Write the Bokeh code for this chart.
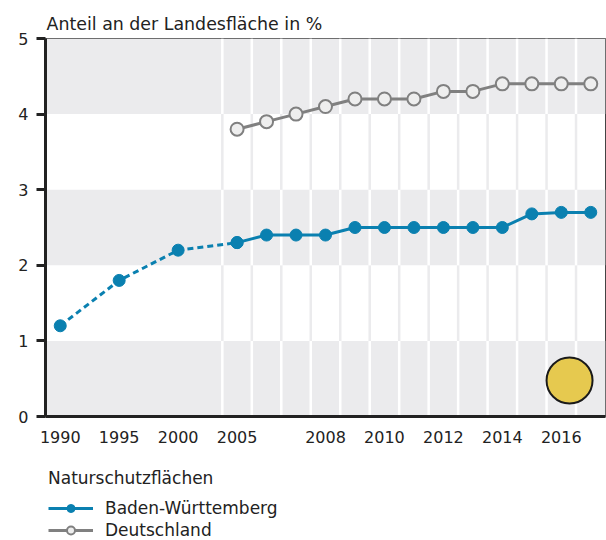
from bokeh.plotting import figure
from bokeh.layouts import column
from bokeh.models import Range1d, BoxAnnotation, Legend, LegendItem, FixedTicker
from bokeh.embed import file_html
from bokeh.resources import INLINE

FONT = "DejaVu Sans"
TEXT = "#222222"
BLUE = "#0a80b0"
GREY = "#808080"
BAND = "#ebebed"

# x slots (gap slots between the 5-year steps are unlabeled)
slots = ["1990", "1992", "1995", "1997", "2000", "2002", "2005", "2006", "2007", "2008",
         "2009", "2010", "2011", "2012", "2013", "2014", "2015", "2016", "2017"]
tick_labels = ["1990", "1995", "2000", "2005", "2008", "2010", "2012", "2014", "2016"]

# Baden-Württemberg, early (dashed) part
bw_early_years = ["1990", "1995", "2000", "2005"]
bw_early_values = [1.2, 1.8, 2.2, 2.3]
# Baden-Württemberg, annual part
bw_years = ["2005", "2006", "2007", "2008", "2009", "2010", "2011", "2012", "2013",
            "2014", "2015", "2016", "2017"]
bw_values = [2.3, 2.4, 2.4, 2.4, 2.5, 2.5, 2.5, 2.5, 2.5, 2.5, 2.68, 2.7, 2.7]
# Deutschland
de_years = ["2005", "2006", "2007", "2008", "2009", "2010", "2011", "2012", "2013",
            "2014", "2015", "2016", "2017"]
de_values = [3.8, 3.9, 4.0, 4.1, 4.2, 4.2, 4.2, 4.3, 4.3, 4.4, 4.4, 4.4, 4.4]

y_ticks = [0, 1, 2, 3, 4, 5]
grey_bands = [(0, 1), (2, 3), (4, 5)]
legend_title = "Naturschutzflächen"
series_names = ["Baden-Württemberg", "Deutschland"]

# slot centre positions on the numeric x axis
pos = {s: i + 0.5 for i, s in enumerate(slots)}
def X(years):
    return [pos[y] for y in years]

p = figure(x_range=Range1d(0, len(slots)), y_range=Range1d(0, 5),
           frame_width=560, frame_height=378,
           min_border_left=45, min_border_right=1, min_border_top=38, min_border_bottom=36,
           output_backend="svg", toolbar_location=None,
           title="Anteil an der Landesfläche in %")

p.background_fill_color = "white"
p.border_fill_color = "white"
p.outline_line_color = "#444444"
p.outline_line_width = 1
p.xgrid.visible = False
p.ygrid.visible = False

p.title.text_font = FONT
p.title.text_font_size = "17.4px"
p.title.text_font_style = "normal"
p.title.text_color = TEXT
p.title.align = "left"
p.title.offset = 1
p.title.standoff = 9

for lo, hi in grey_bands:
    p.add_layout(BoxAnnotation(bottom=lo, top=hi, fill_color=BAND, fill_alpha=1,
                               line_color=None, level="underlay"))

# separators at the left edge of each annual slot
sep_x = [pos[y] - 0.5 for y in bw_years]
x0s, y0s, y1s, cols = [], [], [], []
grey_lows = [b[0] for b in grey_bands]
for band in range(5):
    for sx in sep_x:
        x0s.append(sx)
        y0s.append(band)
        y1s.append(band + 1)
        cols.append("white" if band in grey_lows else BAND)
p.segment(x0=x0s, y0=y0s, x1=x0s, y1=y1s, line_color=cols, line_width=2.5)

# Deutschland
p.line(X(de_years), de_values, line_color=GREY, line_width=3)
p.scatter(X(de_years), de_values, size=13, fill_color="#eeeeee", line_color=GREY, line_width=2)

# Baden-Württemberg
p.line(X(bw_early_years), bw_early_values, line_color=BLUE, line_width=3, line_dash="6 4")
p.line(X(bw_years), bw_values, line_color=BLUE, line_width=3)
p.scatter(X(bw_early_years + bw_years), bw_early_values + bw_values, size=12,
          fill_color=BLUE, line_color=BLUE)

# badge
p.scatter([17.78], [0.476], size=46, fill_color="#e6c94f", line_color="#1a1a1a", line_width=2)

# y axis
p.yaxis.ticker = FixedTicker(ticks=y_ticks)
p.yaxis.minor_tick_line_color = None
p.yaxis.major_tick_in = 0
p.yaxis.major_tick_out = 9
p.yaxis.major_tick_line_width = 3
p.yaxis.major_tick_line_color = TEXT
p.yaxis.axis_line_width = 3
p.yaxis.axis_line_color = TEXT
p.yaxis.major_label_standoff = 8
p.yaxis.major_label_text_font = FONT
p.yaxis.major_label_text_font_size = "16px"
p.yaxis.major_label_text_color = TEXT

# x axis
tick_pos = X(tick_labels)
p.xaxis.ticker = FixedTicker(ticks=tick_pos)
p.xaxis.major_label_overrides = {tp: lab for tp, lab in zip(tick_pos, tick_labels)}
p.xaxis.minor_tick_line_color = None
p.xaxis.major_tick_line_color = None
p.xaxis.major_tick_in = 0
p.xaxis.major_tick_out = 0
p.xaxis.axis_line_width = 3
p.xaxis.axis_line_color = TEXT
p.xaxis.major_label_standoff = 14
p.xaxis.major_label_text_font = FONT
p.xaxis.major_label_text_font_size = "16px"
p.xaxis.major_label_text_color = TEXT

# legend strip underneath (its own small figure so that the legend is not clipped)
lg = figure(width=606, height=88, x_range=Range1d(0, 1), y_range=Range1d(0, 1),
            min_border=0, x_axis_location=None, y_axis_location=None,
            output_backend="svg", toolbar_location=None)
lg.outline_line_color = None
lg.xgrid.visible = False
lg.ygrid.visible = False
lg.background_fill_color = "white"
lg.border_fill_color = "white"
# key glyphs (their single point lies outside the visible range)
off = [-5, -4]
bw_key = [lg.line(off, off, line_color=BLUE, line_width=3),
          lg.scatter(off[:1], off[:1], size=12, fill_color=BLUE, line_color=BLUE)]
de_key = [lg.line(off, off, line_color=GREY, line_width=3),
          lg.scatter(off[:1], off[:1], size=13, fill_color="#eeeeee", line_color=GREY,
                     line_width=2)]

legend = Legend(items=[LegendItem(label=series_names[0], renderers=bw_key),
                       LegendItem(label=series_names[1], renderers=de_key)],
                title=legend_title, location=(3, 0))
legend.title_text_font = FONT
legend.title_text_font_size = "17px"
legend.title_text_font_style = "normal"
legend.title_text_color = TEXT
legend.title_standoff = 10
legend.label_text_font = FONT
legend.label_text_font_size = "17px"
legend.label_text_color = TEXT
legend.glyph_width = 45
legend.glyph_height = 20
legend.label_standoff = 12
legend.spacing = 2
legend.padding = 0
legend.margin = 0
legend.border_line_color = None
legend.background_fill_alpha = 0
lg.add_layout(legend)

layout = column(p, lg, spacing=0)
open("out.html", "w").write(file_html(layout, INLINE))
